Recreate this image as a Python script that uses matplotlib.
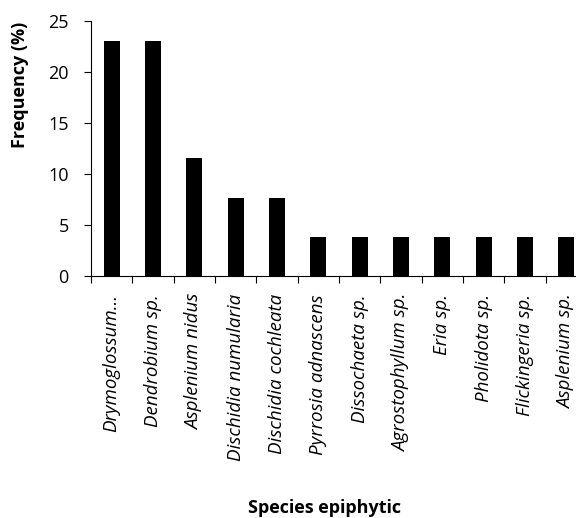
import matplotlib.pyplot as plt
import numpy as np

species = ["Drymoglossum...", "Dendrobium sp.", "Asplenium nidus", "Dischidia numularia",
           "Dischidia cochleata", "Pyrrosia adnascens", "Dissochaeta sp.", "Agrostophyllum sp.",
           "Eria sp.", "Pholidota sp.", "Flickingeria sp.", "Asplenium sp."]
frequency = [23.08, 23.08, 11.54, 7.69, 7.69, 3.85, 3.85, 3.85, 3.85, 3.85, 3.85, 3.85]
yticks = [0, 5, 10, 15, 20, 25]

plt.rcParams['font.family'] = ['Open Sans', 'DejaVu Sans']

fig = plt.figure(figsize=(5.76, 5.18), dpi=100)
# el eje se sale un poco por la derecha, igual que la original
ax = fig.add_axes([91/576, 242/518, 496/576, 255/518])

x = np.arange(len(species))
ax.bar(x, frequency, width=0.39, color='black')

ax.set_xlim(-0.5, len(species) - 0.5)
ax.set_ylim(0, 25)
ax.set_yticks(yticks)
ax.tick_params(axis='y', labelsize=13, length=5, pad=11, direction='out')

# ticks mayores en los limites de categoria, menores para las etiquetas
ax.set_xticks(np.arange(len(species) + 1) - 0.5)
ax.set_xticklabels([])
ax.tick_params(axis='x', which='major', length=5, direction='out')
ax.set_xticks(x, minor=True)
ax.set_xticklabels(species, minor=True, rotation=90, style='italic', fontsize=13.5)
ax.tick_params(axis='x', which='minor', length=0, pad=13)

for s in ['top', 'right']:
    ax.spines[s].set_visible(False)

fig.text(20/576, 1 - 85/518, "Frequency (%)", rotation=90, fontsize=13,
         fontweight='bold', ha='center', va='center')
fig.text(325/576, 1 - 513/518, "Species epiphytic", fontsize=13,
         fontweight='bold', ha='center', va='baseline')

fig.savefig("out.png", dpi=100)
